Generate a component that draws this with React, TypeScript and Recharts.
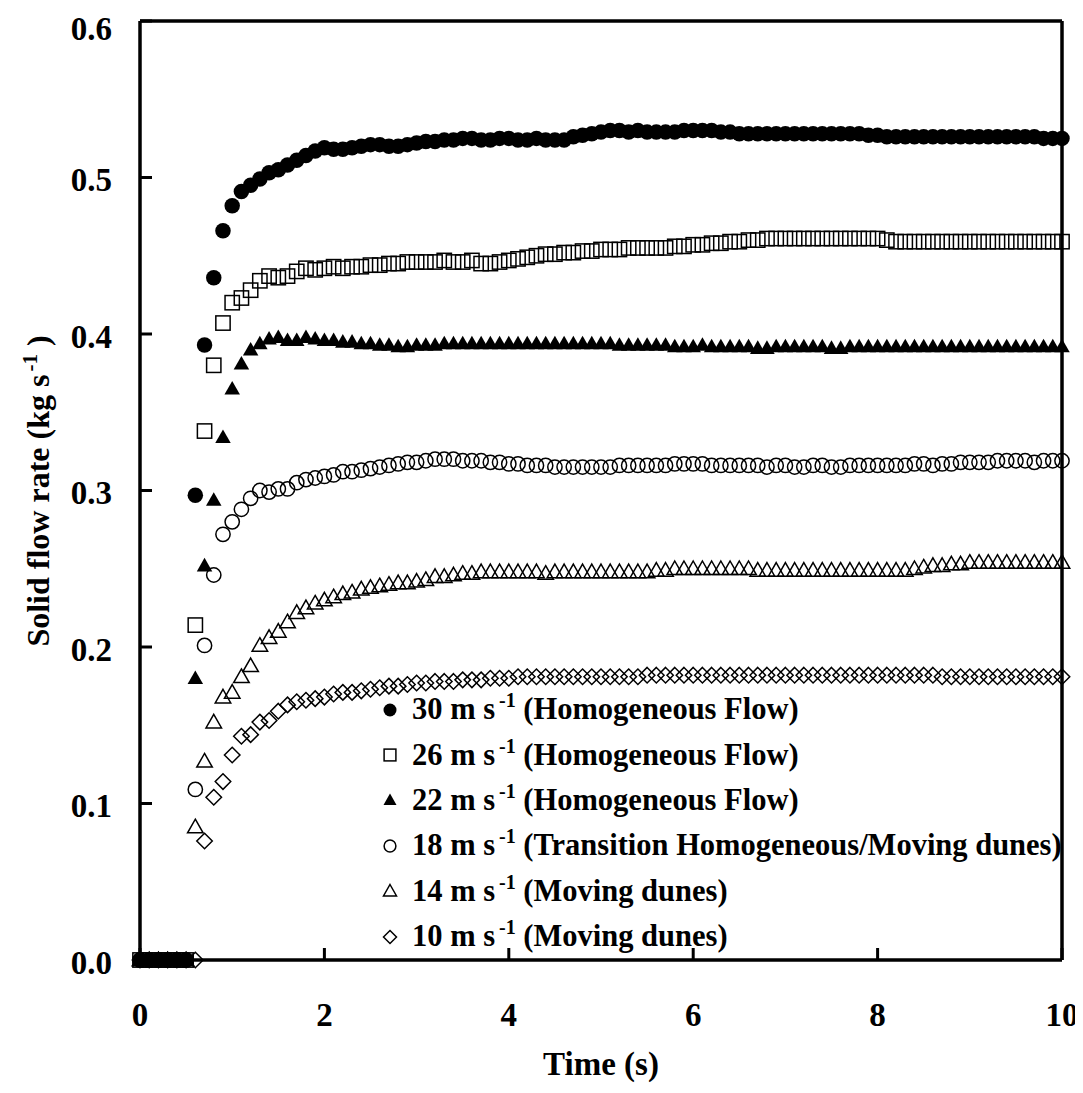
import React from "react";
import { ScatterChart, Scatter, XAxis, YAxis, ReferenceLine, Legend, Label } from "recharts";

// sample times (s)
const time = [
  0, 0.1, 0.2, 0.3, 0.4, 0.5, 0.6, 0.7, 0.8, 0.9, 1.0, 1.1, 1.2, 1.3, 1.4, 1.5, 1.6, 1.7, 1.8, 1.9,
  2.0, 2.1, 2.2, 2.3, 2.4, 2.5, 2.6, 2.7, 2.8, 2.9, 3.0, 3.1, 3.2, 3.3, 3.4, 3.5, 3.6, 3.7, 3.8, 3.9,
  4.0, 4.1, 4.2, 4.3, 4.4, 4.5, 4.6, 4.7, 4.8, 4.9, 5.0, 5.1, 5.2, 5.3, 5.4, 5.5, 5.6, 5.7, 5.8, 5.9,
  6.0, 6.1, 6.2, 6.3, 6.4, 6.5, 6.6, 6.7, 6.8, 6.9, 7.0, 7.1, 7.2, 7.3, 7.4, 7.5, 7.6, 7.7, 7.8, 7.9,
  8.0, 8.1, 8.2, 8.3, 8.4, 8.5, 8.6, 8.7, 8.8, 8.9, 9.0, 9.1, 9.2, 9.3, 9.4, 9.5, 9.6, 9.7, 9.8, 9.9,
  10.0,
];

// solid flow rate (kg/s) per gas velocity
const v30 = [
  0, 0, 0, 0, 0, 0, 0.297, 0.393, 0.436, 0.466, 0.482, 0.491, 0.495, 0.499, 0.503, 0.505, 0.508, 0.511, 0.514, 0.517,
  0.519, 0.518, 0.518, 0.519, 0.52, 0.521, 0.521, 0.52, 0.52, 0.521, 0.522, 0.523, 0.523, 0.524, 0.524, 0.525, 0.525, 0.524, 0.524, 0.525,
  0.525, 0.524, 0.524, 0.525, 0.524, 0.524, 0.524, 0.526, 0.527, 0.528, 0.529, 0.53, 0.53, 0.529, 0.53, 0.529, 0.529, 0.529, 0.529, 0.53,
  0.53, 0.53, 0.53, 0.529, 0.529, 0.528, 0.528, 0.528, 0.528, 0.528, 0.528, 0.528, 0.528, 0.528, 0.528, 0.528, 0.528, 0.528, 0.528, 0.527,
  0.527, 0.526, 0.526, 0.526, 0.526, 0.526, 0.526, 0.526, 0.526, 0.526, 0.526, 0.526, 0.526, 0.526, 0.526, 0.526, 0.526, 0.526, 0.525, 0.525,
  0.525,
];
const v26 = [
  0, 0, 0, 0, 0, 0, 0.214, 0.338, 0.38, 0.407, 0.42, 0.423, 0.428, 0.434, 0.437, 0.436, 0.437, 0.44, 0.442, 0.441,
  0.442, 0.443, 0.442, 0.443, 0.443, 0.444, 0.444, 0.445, 0.445, 0.446, 0.446, 0.446, 0.446, 0.447, 0.446, 0.446, 0.447, 0.445, 0.445, 0.446,
  0.447, 0.448, 0.449, 0.45, 0.451, 0.451, 0.452, 0.452, 0.453, 0.453, 0.454, 0.454, 0.454, 0.455, 0.455, 0.455, 0.455, 0.455, 0.456, 0.456,
  0.457, 0.457, 0.458, 0.458, 0.459, 0.459, 0.46, 0.46, 0.461, 0.461, 0.461, 0.461, 0.461, 0.461, 0.461, 0.461, 0.461, 0.461, 0.461, 0.461,
  0.461, 0.46, 0.459, 0.459, 0.459, 0.459, 0.459, 0.459, 0.459, 0.459, 0.459, 0.459, 0.459, 0.459, 0.459, 0.459, 0.459, 0.459, 0.459, 0.459,
  0.459,
];
const v22 = [
  0, 0, 0, 0, 0, 0, 0.18, 0.252, 0.294, 0.334, 0.365, 0.381, 0.39, 0.394, 0.397, 0.398, 0.396, 0.396, 0.398, 0.397,
  0.396, 0.396, 0.395, 0.395, 0.394, 0.394, 0.393, 0.393, 0.392, 0.392, 0.393, 0.393, 0.393, 0.394, 0.394, 0.394, 0.394, 0.394, 0.394, 0.394,
  0.394, 0.394, 0.394, 0.394, 0.394, 0.394, 0.394, 0.394, 0.394, 0.394, 0.394, 0.394, 0.393, 0.393, 0.393, 0.393, 0.393, 0.393, 0.392, 0.392,
  0.392, 0.393, 0.392, 0.392, 0.392, 0.392, 0.392, 0.391, 0.391, 0.392, 0.392, 0.392, 0.392, 0.392, 0.392, 0.391, 0.391, 0.392, 0.392, 0.392,
  0.392, 0.392, 0.392, 0.392, 0.392, 0.392, 0.392, 0.392, 0.392, 0.392, 0.392, 0.392, 0.392, 0.392, 0.392, 0.392, 0.392, 0.392, 0.392, 0.392,
  0.392,
];
const v18 = [
  0, 0, 0, 0, 0, 0, 0.109, 0.201, 0.246, 0.272, 0.28, 0.288, 0.295, 0.3, 0.299, 0.301, 0.301, 0.305, 0.307, 0.308,
  0.309, 0.31, 0.312, 0.312, 0.313, 0.314, 0.315, 0.316, 0.317, 0.318, 0.318, 0.319, 0.32, 0.32, 0.32, 0.319, 0.319, 0.319, 0.318, 0.318,
  0.317, 0.317, 0.316, 0.316, 0.316, 0.315, 0.315, 0.315, 0.315, 0.315, 0.315, 0.315, 0.316, 0.316, 0.316, 0.316, 0.316, 0.316, 0.317, 0.317,
  0.317, 0.317, 0.316, 0.316, 0.316, 0.316, 0.316, 0.316, 0.315, 0.316, 0.316, 0.315, 0.315, 0.316, 0.316, 0.315, 0.315, 0.316, 0.316, 0.316,
  0.316, 0.316, 0.316, 0.316, 0.317, 0.317, 0.316, 0.317, 0.317, 0.318, 0.318, 0.318, 0.318, 0.319, 0.319, 0.319, 0.319, 0.318, 0.319, 0.319,
  0.319,
];
const v14 = [
  0, 0, 0, 0, 0, 0, 0.085, 0.127, 0.152, 0.168, 0.171, 0.181, 0.188, 0.201, 0.206, 0.21, 0.216, 0.222, 0.225, 0.228,
  0.23, 0.232, 0.234, 0.235, 0.237, 0.238, 0.239, 0.24, 0.241, 0.241, 0.242, 0.243, 0.245, 0.245, 0.246, 0.247, 0.247, 0.248, 0.248, 0.248,
  0.248, 0.248, 0.248, 0.248, 0.247, 0.248, 0.248, 0.248, 0.248, 0.248, 0.248, 0.248, 0.248, 0.248, 0.248, 0.248, 0.249, 0.249, 0.25, 0.25,
  0.25, 0.25, 0.25, 0.25, 0.25, 0.25, 0.25, 0.249, 0.249, 0.249, 0.249, 0.249, 0.249, 0.249, 0.249, 0.249, 0.249, 0.249, 0.249, 0.249,
  0.249, 0.249, 0.249, 0.249, 0.25, 0.251, 0.252, 0.252, 0.253, 0.253, 0.254, 0.254, 0.254, 0.254, 0.254, 0.254, 0.254, 0.254, 0.254, 0.254,
  0.254,
];
const v10 = [
  0, 0, 0, 0, 0, 0, 0, 0.076, 0.104, 0.114, 0.131, 0.143, 0.144, 0.152, 0.153, 0.159, 0.163, 0.165, 0.166, 0.167,
  0.168, 0.17, 0.171, 0.171, 0.172, 0.173, 0.174, 0.175, 0.175, 0.176, 0.177, 0.177, 0.178, 0.178, 0.178, 0.179, 0.179, 0.179, 0.18, 0.18,
  0.18, 0.181, 0.181, 0.181, 0.181, 0.181, 0.181, 0.181, 0.181, 0.181, 0.181, 0.181, 0.181, 0.181, 0.181, 0.182, 0.182, 0.182, 0.182, 0.182,
  0.182, 0.182, 0.182, 0.182, 0.182, 0.182, 0.182, 0.182, 0.182, 0.182, 0.182, 0.182, 0.182, 0.182, 0.182, 0.182, 0.182, 0.182, 0.182, 0.182,
  0.182, 0.182, 0.182, 0.182, 0.182, 0.182, 0.182, 0.181, 0.181, 0.181, 0.181, 0.181, 0.181, 0.181, 0.181, 0.181, 0.181, 0.181, 0.181, 0.181,
  0.181,
];

const xTicks = [0, 2, 4, 6, 8, 10];
const yTicks = [0, 0.1, 0.2, 0.3, 0.4, 0.5, 0.6];

type Kind = "dot" | "square" | "tri" | "ring" | "otri" | "diamond";

const series: { speed: string; regime: string; kind: Kind; values: number[] }[] = [
  { speed: "30", regime: "(Homogeneous Flow)", kind: "dot", values: v30 },
  { speed: "26", regime: "(Homogeneous Flow)", kind: "square", values: v26 },
  { speed: "22", regime: "(Homogeneous Flow)", kind: "tri", values: v22 },
  { speed: "18", regime: "(Transition Homogeneous/Moving dunes)", kind: "ring", values: v18 },
  { speed: "14", regime: "(Moving dunes)", kind: "otri", values: v14 },
  { speed: "10", regime: "(Moving dunes)", kind: "diamond", values: v10 },
];

const FONT = "'Liberation Serif', 'Times New Roman', serif";

function marker(kind: Kind, cx: number, cy: number, s: number) {
  const h = s / 2;
  const sw = 1.5;
  switch (kind) {
    case "dot":
      return <circle cx={cx} cy={cy} r={h} fill="#000" />;
    case "ring":
      return <circle cx={cx} cy={cy} r={h - 0.6} fill="none" stroke="#000" strokeWidth={sw} />;
    case "square":
      return <rect x={cx - h + 0.6} y={cy - h + 0.6} width={s - 1.2} height={s - 1.2} fill="none" stroke="#000" strokeWidth={sw} />;
    case "tri":
      return <polygon points={`${cx},${cy - h} ${cx + h},${cy + h * 0.75} ${cx - h},${cy + h * 0.75}`} fill="#000" />;
    case "otri":
      return (
        <polygon
          points={`${cx},${cy - h} ${cx + h},${cy + h * 0.75} ${cx - h},${cy + h * 0.75}`}
          fill="none"
          stroke="#000"
          strokeWidth={sw}
        />
      );
    default:
      return (
        <polygon
          points={`${cx},${cy - h} ${cx + h},${cy} ${cx},${cy + h} ${cx - h},${cy}`}
          fill="none"
          stroke="#000"
          strokeWidth={sw}
        />
      );
  }
}

function LegendBox() {
  return (
    <div style={{ fontFamily: FONT, fontWeight: "bold", fontSize: 30.5, color: "#000" }}>
      {series.map((s) => (
        <div key={s.speed} style={{ height: 45.4, display: "flex", alignItems: "center", whiteSpace: "nowrap" }}>
          <svg width={16} height={16} style={{ marginRight: 14 }}>
            {marker(s.kind, 8, 8, 13)}
          </svg>
          <span>
            {s.speed} m s
            <span style={{ fontSize: 20, position: "relative", top: -12, marginLeft: 4 }}>-1</span> {s.regime}
          </span>
        </div>
      ))}
    </div>
  );
}

export default function App() {
  const tickStyle = { fontFamily: FONT, fontWeight: "bold", fontSize: 33, fill: "#000" };
  return (
    <div style={{ width: 1075, height: 1077, overflow: "hidden" }}>
      <ScatterChart width={1075} height={1077} margin={{ top: 13, right: 21, left: 0, bottom: 0 }}>
        <XAxis
          type="number"
          dataKey="t"
          domain={[0, 10]}
          ticks={xTicks}
          height={125}
          tickSize={-12}
          tickMargin={55}
          axisLine={{ stroke: "#000", strokeWidth: 3.5 }}
          tickLine={{ stroke: "#000", strokeWidth: 3 }}
          tick={tickStyle}
        >
          <Label
            content={() => (
              <text x={593} y={1067} textAnchor="middle" style={{ fontFamily: FONT, fontWeight: "bold", fontSize: 33 }} fill="#000">
                Time (s)
              </text>
            )}
          />
        </XAxis>
        <YAxis
          type="number"
          dataKey="v"
          domain={[0, 0.6]}
          ticks={yTicks}
          tickFormatter={(v: number) => v.toFixed(1)}
          width={132}
          tickSize={-12}
          tickMargin={40}
          axisLine={{ stroke: "#000", strokeWidth: 3.5 }}
          tickLine={{ stroke: "#000", strokeWidth: 3 }}
          tick={{ ...tickStyle, dy: 2 }}
        >
          <Label
            content={() => (
              <text
                x={41}
                y={483}
                transform="rotate(-90 41 483)"
                textAnchor="middle"
                style={{ fontFamily: FONT, fontWeight: "bold", fontSize: 32 }}
                fill="#000"
              >
                Solid flow rate (kg s
                <tspan dx={3} dy={-12} fontSize={21}>-1</tspan>
                <tspan dy={12}> )</tspan>
              </text>
            )}
          />
        </YAxis>
        <ReferenceLine y={0.6} stroke="#000" strokeWidth={3.5} ifOverflow="visible" />
        <ReferenceLine x={10} stroke="#000" strokeWidth={3.5} ifOverflow="visible" />
        {series.map((s) => (
          <Scatter
            key={s.speed}
            name={`${s.speed} m/s`}
            data={time.map((t, i) => ({ t, v: s.values[i] }))}
            isAnimationActive={false}
            shape={(p: any) => marker(s.kind, p.cx, p.cy, 15.5)}
          />
        ))}
        <Legend
          layout="vertical"
          align="center"
          verticalAlign="middle"
          content={() => <LegendBox />}
          wrapperStyle={{ left: 374, top: 679, width: 700, height: 280 }}
        />
      </ScatterChart>
    </div>
  );
}
